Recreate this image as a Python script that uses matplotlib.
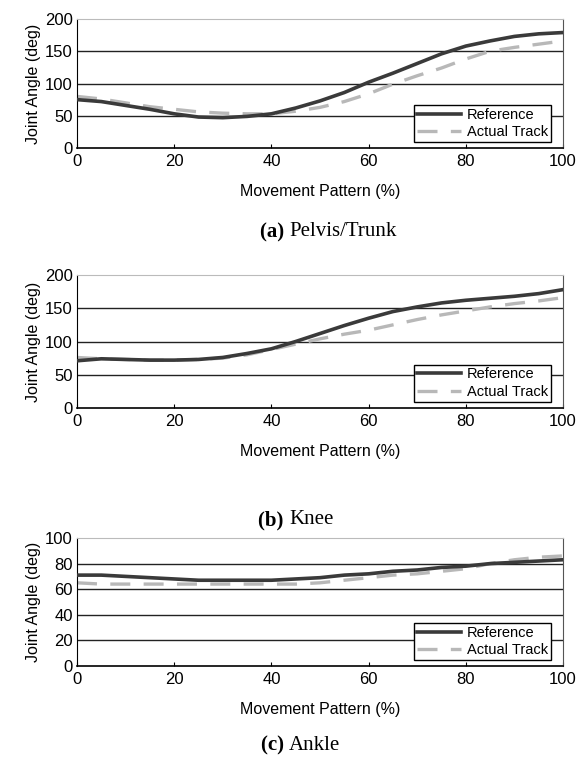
import matplotlib.pyplot as plt
import numpy as np

# Movement pattern (%) sample points
x_pct = [0, 5, 10, 15, 20, 25, 30, 35, 40, 45, 50, 55, 60, 65, 70, 75, 80, 85, 90, 95, 100]

# (a) Pelvis/Trunk
pelvis_ref = [75, 72, 66, 60, 53, 48, 47, 49, 53, 62, 73, 86, 102, 116, 131, 146, 158, 166, 173, 177, 179]
pelvis_act = [80, 76, 70, 64, 60, 56, 54, 53, 53, 57, 63, 72, 84, 99, 112, 124, 138, 150, 156, 161, 166]

# (b) Knee
knee_ref = [71, 74, 73, 72, 72, 73, 76, 82, 89, 100, 112, 124, 135, 145, 152, 158, 162, 165, 168, 172, 178]
knee_act = [76, 74, 73, 72, 72, 73, 75, 80, 88, 96, 104, 111, 117, 125, 133, 140, 146, 152, 157, 161, 166]

# (c) Ankle
ankle_ref = [71, 71, 70, 69, 68, 67, 67, 67, 67, 68, 69, 71, 72, 74, 75, 77, 78, 80, 81, 82, 83]
ankle_act = [65, 64, 64, 64, 64, 64, 64, 64, 64, 64, 65, 67, 69, 71, 72, 74, 76, 80, 83, 85, 86]

paneles = [
    ("(a)", "Pelvis/Trunk", pelvis_ref, pelvis_act, [0, 50, 100, 150, 200], 200),
    ("(b)", "Knee", knee_ref, knee_act, [0, 50, 100, 150, 200], 200),
    ("(c)", "Ankle", ankle_ref, ankle_act, [0, 20, 40, 60, 80, 100], 100),
]

# posiciones de los ejes en pixeles (top, bottom)
W, H = 578, 764
cajas = [(19, 148), (275, 408), (538, 666)]
izq, der = 77, 563

fig = plt.figure(figsize=(W / 100, H / 100), dpi=100)
plt.rcParams['font.family'] = ['Liberation Sans', 'DejaVu Sans']

for (letra, nombre, ref, act, ticks, ymax), (top, bot) in zip(paneles, cajas):
    ax = fig.add_axes([izq / W, 1 - bot / H, (der - izq) / W, (bot - top) / H])
    for t in ticks[1:-1]:
        ax.axhline(t, color='#222222', linewidth=1.0, zorder=1)
    ax.plot(x_pct, ref, color='#3a3a3a', linewidth=2.6, label='Reference', zorder=3)
    ax.plot(x_pct, act, color='#b8b8b8', linewidth=2.4, linestyle=(0, (6, 4)),
            label='Actual Track', zorder=2)
    ax.set_xlim(0, 100)
    ax.set_ylim(0, ymax)
    ax.set_xticks([0, 20, 40, 60, 80, 100])
    ax.set_yticks(ticks)
    ax.tick_params(axis='both', labelsize=12, length=3, direction='in', pad=4)
    ax.tick_params(axis='y', length=0, pad=3)
    ax.spines['top'].set_color('#bbbbbb')
    ax.spines['right'].set_color('#555555')
    ax.spines['bottom'].set_linewidth(1.2)
    ax.set_xlabel('Movement Pattern (%)', fontsize=11.5, labelpad=11)
    ax.set_ylabel('Joint Angle (deg)', fontsize=11.5, labelpad=3)
    leg = ax.legend(loc='lower right', bbox_to_anchor=(0.975, 0.045), fontsize=10.5,
                    frameon=True, fancybox=False, framealpha=1, borderpad=0.2,
                    handlelength=3.0, handletextpad=0.4, labelspacing=0.25,
                    borderaxespad=0)
    leg.get_frame().set_edgecolor('black')
    leg.get_frame().set_linewidth(1.0)

# subtitulos de cada panel
titulos_y = [232, 520, 745]
for (letra, nombre, *_), ty in zip(paneles, titulos_y):
    fig.text(0.5, 1 - ty / H, letra + " ", fontsize=15, fontweight='bold',
             family='Liberation Serif', ha='right', va='center')
    fig.text(0.5, 1 - ty / H, nombre, fontsize=15, family='Liberation Serif',
             ha='left', va='center')

fig.savefig('out.png', dpi=100)
